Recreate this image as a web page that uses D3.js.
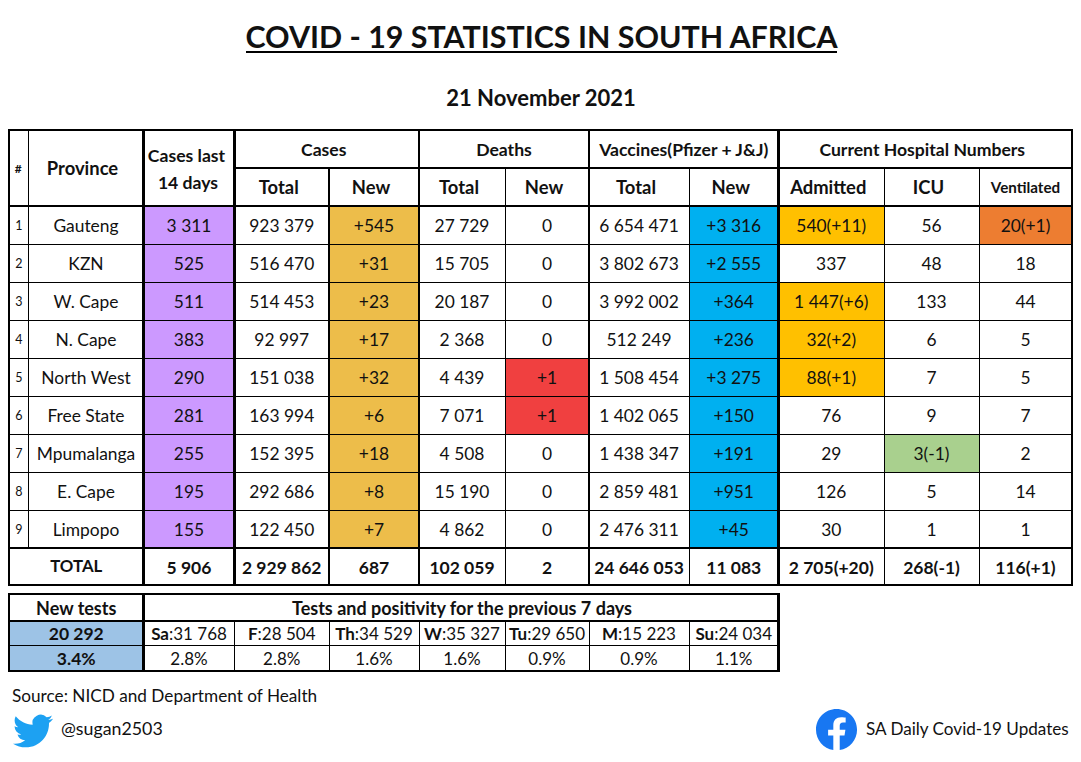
<!DOCTYPE html>
<html>
<head>
<meta charset="utf-8">
<title>COVID - 19 Statistics in South Africa</title>
<script src="https://cdn.jsdelivr.net/npm/d3@7"></script>
<style>
  body { margin: 0; background: #fff; }
  text { font-family: Lato, "Open Sans", sans-serif; fill: #111; text-anchor: middle; }
  .b { font-weight: 700; }
</style>
</head>
<body>
<div id="chart"></div>
<script>
// table contents
const provinces = ["Gauteng","KZN","W. Cape","N. Cape","North West","Free State","Mpumalanga","E. Cape","Limpopo"];
const last14 = ["3 311","525","511","383","290","281","255","195","155"];
const casesTotal = ["923 379","516 470","514 453","92 997","151 038","163 994","152 395","292 686","122 450"];
const casesNew = ["+545","+31","+23","+17","+32","+6","+18","+8","+7"];
const deathsTotal = ["27 729","15 705","20 187","2 368","4 439","7 071","4 508","15 190","4 862"];
const deathsNew = ["0","0","0","0","+1","+1","0","0","0"];
const vaccTotal = ["6 654 471","3 802 673","3 992 002","512 249","1 508 454","1 402 065","1 438 347","2 859 481","2 476 311"];
const vaccNew = ["+3 316","+2 555","+364","+236","+3 275","+150","+191","+951","+45"];
const admitted = ["540(+11)","337","1 447(+6)","32(+2)","88(+1)","76","29","126","30"];
const icu = ["56","48","133","6","7","9","3(-1)","5","1"];
const ventilated = ["20(+1)","18","44","5","5","7","2","14","1"];
const totals = ["5 906","2 929 862","687","102 059","2","24 646 053","11 083","2 705(+20)","268(-1)","116(+1)"];

const testDays = ["Sa","F","Th","W","Tu","M","Su"];
const testCounts = ["31 768","28 504","34 529","35 327","29 650","15 223","24 034"];
const testPositivity = ["2.8%","2.8%","1.6%","1.6%","0.9%","0.9%","1.1%"];

const colKeys = ["num","prov","last14","casesT","casesN","deathsT","deathsN","vaccT","vaccN","adm","icu","vent","end"];
const colEdges = [9,28.5,143.5,234.5,329,419,505,589,689,778.5,884,979,1072];

const width = 1081, height = 762;
const svg = d3.select("#chart").append("svg")
    .attr("width", width)
    .attr("height", height)
    .style("display", "block");

const x = d3.scaleOrdinal().domain(colKeys).range(colEdges);
const rowY = d3.scaleBand().domain(d3.range(provinces.length)).range([206,548]);
const headY = d3.scaleOrdinal().domain(["top","mid","bot"]).range([130,168,206]);
const totalBottom = 585;

const gFill = svg.append("g");
const gLine = svg.append("g");
const gText = svg.append("g");

const fill = (x0, y0, x1, y1, c) => gFill.append("rect")
    .attr("x", x0).attr("y", y0).attr("width", x1-x0).attr("height", y1-y0).attr("fill", c);
const line = (x0, y0, x1, y1, w) => gLine.append("line")
    .attr("x1", x0).attr("y1", y0).attr("x2", x1).attr("y2", y1)
    .attr("stroke", "#000").attr("stroke-width", w).attr("stroke-linecap", "square")
    .attr("shape-rendering", "crispEdges");
const label = (t, cx, cy, size, bold) => gText.append("text")
    .attr("x", cx).attr("y", cy + size*0.35)
    .attr("font-size", size)
    .attr("class", bold ? "b" : null)
    .text(t);
const mid = (a, b) => (x(a) + x(b)) / 2;

// titles
label("COVID - 19 STATISTICS IN SOUTH AFRICA", 541.5, 37, 30.4, true);
line(247, 52, 836, 52, 2);
label("21 November 2021", 541, 98, 22, true);

// header
const hs = 18.4, gs = 17.6;
label("#", mid("num","prov") - 0.5, 169, 12, true);
label("Province", mid("prov","last14") - 3.5, 169, hs, true);
label("Cases last", mid("last14","casesT") - 2.5, 156, gs, true);
label("14 days", mid("last14","casesT") - 1, 183, gs, true);
label("Cases", mid("casesT","deathsT") - 3, 150, gs, true);
label("Deaths", mid("deathsT","vaccT"), 150, gs, true);
label("Vaccines(Pfizer + J&J)", mid("vaccT","adm"), 150, gs, true);
label("Current Hospital Numbers", mid("adm","end") - 3, 150, gs, true);
[["casesT","casesN","Total"],["casesN","deathsT","New"],["deathsT","deathsN","Total"],["deathsN","vaccT","New"],
 ["vaccT","vaccN","Total"],["vaccN","adm","New"],["adm","icu","Admitted"],["icu","vent","ICU"]]
  .forEach(([a,b,t]) => label(t, mid(a,b) - 3, 188, hs, true));
label("Ventilated", mid("vent","end"), 188, 15.2, true);

// body columns
const columns = [
  {a:"last14", b:"casesT", vals:last14,      color:() => "#CC99FF"},
  {a:"casesT", b:"casesN", vals:casesTotal,  color:() => null},
  {a:"casesN", b:"deathsT",vals:casesNew,    color:() => "#EDBD4A"},
  {a:"deathsT",b:"deathsN",vals:deathsTotal, color:() => null},
  {a:"deathsN",b:"vaccT",  vals:deathsNew,   color:v => v !== "0" ? "#F04040" : null},
  {a:"vaccT",  b:"vaccN",  vals:vaccTotal,   color:() => null},
  {a:"vaccN",  b:"adm",    vals:vaccNew,     color:() => "#00B0F0"},
  {a:"adm",    b:"icu",    vals:admitted,    color:v => v.includes("(") ? "#FFC000" : null},
  {a:"icu",    b:"vent",   vals:icu,         color:v => v.includes("(") ? "#A9D08E" : null},
  {a:"vent",   b:"end",    vals:ventilated,  color:v => v.includes("(") ? "#ED7D31" : null}
];
const bs = 17.4;

provinces.forEach((p, i) => {
  const y0 = rowY(i), y1 = y0 + rowY.bandwidth(), cy = (y0 + y1) / 2 + 0.5;
  label(i + 1, mid("num","prov"), cy, 12.5, false);
  label(p, mid("prov","last14"), cy, bs, false);
  columns.forEach(c => {
    const v = c.vals[i], col = c.color(v);
    if (col) fill(x(c.a), y0, x(c.b), y1, col);
    label(v, mid(c.a,c.b), cy, bs, false);
  });
});

// total row
const totalMid = (rowY.range()[1] + totalBottom) / 2 + 1;
label("TOTAL", (x("num") + x("last14")) / 2, totalMid - 1, 16.8, true);
columns.forEach((c, i) => label(totals[i], mid(c.a,c.b), totalMid, 17.5, true));

// horizontal rules of main table
const left = x("num"), right = x("end");
line(left, headY("top"), right, headY("top"), 2.5);
line(x("casesT"), headY("mid"), right, headY("mid"), 2.5);
line(left, headY("bot"), right, headY("bot"), 2.5);
d3.range(1, provinces.length).forEach(i => line(left, rowY(i), right, rowY(i), 1));
line(left, rowY.range()[1], right, rowY.range()[1], 2.5);
line(left, totalBottom, right, totalBottom, 2.5);

// vertical rules of main table
const vTop = headY("top"), vMid = headY("mid"), vBot = rowY.range()[1];
line(x("num"), vTop, x("num"), totalBottom, 2.5);
line(x("prov"), vTop, x("prov"), vBot, 1);
["last14","casesT","deathsT","vaccT","adm","end"].forEach(k => line(x(k), vTop, x(k), totalBottom, 2.5));
line(x("casesN"), vMid, x("casesN"), totalBottom, 2);
["deathsN","vaccN","icu","vent"].forEach(k => line(x(k), vMid, x(k), totalBottom, 1));

// tests table
const testCols = ["last14","casesT","casesN","deathsT","deathsN","vaccT","vaccN","adm"];
const testRows = d3.scaleOrdinal().domain(["top","a","b","bot"]).range([594,620.5,645.5,671]);
fill(left, testRows("a"), x("last14"), testRows("bot"), "#9DC3E6");
label("New tests", (left + x("last14")) / 2, (testRows("top") + testRows("a")) / 2 + 1, 18, true);
label("Tests and positivity for the previous 7 days", (x("last14") + x("adm")) / 2 + 1, (testRows("top") + testRows("a")) / 2 + 1, 18, true);
label("20 292", (left + x("last14")) / 2, (testRows("a") + testRows("b")) / 2 + 1, 17.5, true);
label("3.4%", (left + x("last14")) / 2, (testRows("b") + testRows("bot")) / 2 + 1, 17.5, true);

testDays.forEach((d, i) => {
  const a = testCols[i], b = testCols[i+1];
  const t = gText.append("text")
      .attr("x", mid(a,b))
      .attr("y", (testRows("a") + testRows("b")) / 2 + 7)
      .attr("font-size", 17);
  t.append("tspan").attr("class", "b").text(d);
  t.append("tspan").text(":" + testCounts[i]);
  label(testPositivity[i], mid(a,b), (testRows("b") + testRows("bot")) / 2 + 1, 17, false);
});

const tRight = x("adm");
line(left, testRows("top"), tRight, testRows("top"), 2.5);
line(left, testRows("a"), tRight, testRows("a"), 2);
line(left, testRows("b"), tRight, testRows("b"), 1);
line(left, testRows("bot"), tRight, testRows("bot"), 2.5);
line(left, testRows("top"), left, testRows("bot"), 2.5);
line(x("last14"), testRows("top"), x("last14"), testRows("bot"), 2.5);
line(tRight, testRows("top"), tRight, testRows("bot"), 2.5);
testCols.slice(1, -1).forEach(k => line(x(k), testRows("a"), x(k), testRows("bot"), 1));

// footer
gText.append("text").attr("x", 12).attr("y", 702).attr("font-size", 17.2)
    .style("text-anchor", "start").text("Source: NICD and Department of Health");
gText.append("text").attr("x", 61).attr("y", 735).attr("font-size", 17.8)
    .style("text-anchor", "start").text("@sugan2503");
gText.append("text").attr("x", 866).attr("y", 735).attr("font-size", 17.1)
    .style("text-anchor", "start").text("SA Daily Covid-19 Updates");

// twitter and facebook logos
svg.append("path")
    .attr("transform", "translate(13,711) scale(1.67)")
    .attr("fill", "#1DA1F2")
    .attr("d", "M23.953 4.57a10 10 0 01-2.825.775 4.958 4.958 0 002.163-2.723c-.951.555-2.005.959-3.127 1.184a4.92 4.92 0 00-8.384 4.482C7.69 8.095 4.067 6.13 1.64 3.162a4.822 4.822 0 00-.666 2.475c0 1.71.87 3.213 2.188 4.096a4.904 4.904 0 01-2.228-.616v.06a4.923 4.923 0 003.946 4.827 4.996 4.996 0 01-2.212.085 4.936 4.936 0 004.604 3.417 9.867 9.867 0 01-6.102 2.105c-.39 0-.779-.023-1.17-.067a13.995 13.995 0 007.557 2.209c9.053 0 13.998-7.496 13.998-13.985 0-.21 0-.42-.015-.63A9.935 9.935 0 0024 4.59z");
svg.append("path")
    .attr("transform", "translate(816,709) scale(1.71)")
    .attr("fill", "#1877F2")
    .attr("d", "M24 12.073c0-6.627-5.373-12-12-12s-12 5.373-12 12c0 5.99 4.388 10.954 10.125 11.854v-8.385H7.078v-3.47h3.047V9.43c0-3.007 1.792-4.669 4.533-4.669 1.312 0 2.686.235 2.686.235v2.953H15.83c-1.491 0-1.956.925-1.956 1.874v2.25h3.328l-.532 3.47h-2.796v8.385C19.612 23.027 24 18.062 24 12.073z");
</script>
</body>
</html>
